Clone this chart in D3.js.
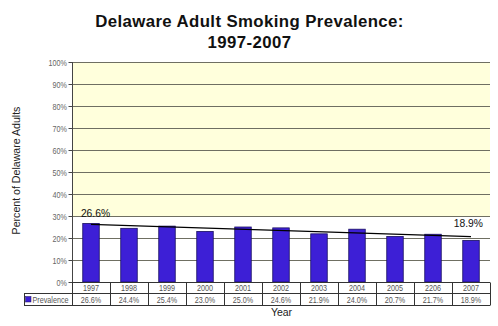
<!DOCTYPE html>
<html><head><meta charset="utf-8">
<script src="https://cdn.jsdelivr.net/npm/d3@7"></script>
<style>body{margin:0;background:#fff;}svg{display:block;font-family:"Liberation Sans",Arial,sans-serif;}</style>
</head><body><svg id="c" width="498" height="326"></svg>
<script>
const years = ["1997","1998","1999","2000","2001","2002","2003","2004","2005","2206","2007"];
const prevalence = [26.6,24.4,25.4,23.0,25.0,24.6,21.9,24.0,20.7,21.7,18.9];
const trendEnds = [26.2,20.6];
const yTicks = [0,10,20,30,40,50,60,70,80,90,100];
const seriesName = "Prevalence";

const svg = d3.select("#c");
const L=72,R=490,T=62,B=282;
const NX = 0.82; // narrow horizontal squeeze for small table/axis text
const x = d3.scaleBand().domain(years).range([L,R]).paddingInner(0).paddingOuter(0);
const y = d3.scaleLinear().domain([0,100]).range([B,T]);

svg.append("text").attr("x",249.5).attr("y",26.7).attr("text-anchor","middle").attr("font-size",16.8).attr("letter-spacing",0.4).attr("font-weight","bold").attr("fill","#111").text("Delaware Adult Smoking Prevalence:");
svg.append("text").attr("x",249.5).attr("y",47.5).attr("text-anchor","middle").attr("font-size",16.8).attr("letter-spacing",0.4).attr("font-weight","bold").attr("fill","#111").text("1997-2007");

svg.append("rect").attr("x",L).attr("y",T).attr("width",R-L).attr("height",y(30)-T).attr("fill","#ffffdc");

svg.append("g").selectAll("line").data(yTicks.filter(d=>d>0)).join("line")
 .attr("x1",L).attr("x2",R).attr("y1",d=>y(d)+0.5).attr("y2",d=>y(d)+0.5)
 .attr("stroke","#6f6f62").attr("stroke-width",1);

const ya = svg.append("g").attr("transform",`translate(${L+0.5},0)`).call(d3.axisLeft(y).tickValues(yTicks).tickSize(4).tickPadding(1.5).tickFormat(d=>d+"%"));
ya.select(".domain").attr("stroke","#444").attr("d",`M0,${T}V${B}`);
ya.selectAll(".tick line").attr("stroke","#444");
ya.selectAll(".tick text").each(function(){
  const t=d3.select(this); const xx=+t.attr("x");
  t.attr("x",null).attr("transform",`translate(${xx},0) scale(${NX},1)`);
}).attr("font-size",8.8).attr("fill","#666").attr("dy","0.35em").attr("font-family",null);

const bw = 16.5;
svg.append("g").selectAll("rect").data(prevalence).join("rect")
 .attr("x",(d,i)=>x(years[i])+x.bandwidth()/2-bw/2).attr("width",bw)
 .attr("y",d=>y(d)).attr("height",d=>B-y(d))
 .attr("fill","#3d1fd6").attr("stroke","#1a1060").attr("stroke-width",0.8);

svg.append("line")
 .attr("x1",x(years[0])+x.bandwidth()/2).attr("y1",y(trendEnds[0]))
 .attr("x2",x(years[years.length-1])+x.bandwidth()/2).attr("y2",y(trendEnds[1]))
 .attr("stroke","#000").attr("stroke-width",1.2);

svg.append("text").attr("x",x(years[0])+x.bandwidth()/2+4.5).attr("y",y(prevalence[0])-6.5).attr("text-anchor","middle").attr("font-size",10.3).attr("fill","#111").text(prevalence[0].toFixed(1)+"%");
const li = years.length-1;
svg.append("text").attr("x",x(years[li])+x.bandwidth()/2-2.7).attr("y",y(prevalence[li])-13.1).attr("text-anchor","middle").attr("font-size",10.3).attr("fill","#111").text(prevalence[li].toFixed(1)+"%");

// data table
const tb = svg.append("g").attr("fill","none").attr("stroke","#333").attr("stroke-width",1);
const r1=B+0.5, r2=293.5, r3=305.5;
tb.append("line").attr("x1",L).attr("x2",R).attr("y1",r1).attr("y2",r1);
tb.append("line").attr("x1",24).attr("x2",R).attr("y1",r2).attr("y2",r2);
tb.append("line").attr("x1",24).attr("x2",R).attr("y1",r3).attr("y2",r3);
tb.append("line").attr("x1",24.5).attr("x2",24.5).attr("y1",r2).attr("y2",r3);
tb.selectAll(".v").data(years.map(d=>x(d)).concat([R])).join("line")
 .attr("x1",d=>Math.round(d)+0.5).attr("x2",d=>Math.round(d)+0.5).attr("y1",r1).attr("y2",r3);

svg.append("g").selectAll("text").data(years).join("text")
 .attr("transform",d=>`translate(${x(d)+x.bandwidth()/2},291) scale(${NX},1)`).attr("text-anchor","middle")
 .attr("font-size",8.8).attr("fill","#555").text(d=>d);
svg.append("g").selectAll("text").data(prevalence).join("text")
 .attr("transform",(d,i)=>`translate(${x(years[i])+x.bandwidth()/2},303.3) scale(${NX},1)`).attr("text-anchor","middle")
 .attr("font-size",8.8).attr("fill","#555").text(d=>d.toFixed(1)+"%");
svg.append("rect").attr("x",25.5).attr("y",296.5).attr("width",5.5).attr("height",5.5).attr("fill","#3d1fd6").attr("stroke","#1a1060").attr("stroke-width",0.5);
svg.append("text").attr("transform",`translate(32.5,303.3) scale(${NX},1)`).attr("font-size",8.8).attr("fill","#555").text(seriesName);

svg.append("text").attr("x",281.5).attr("y",316.3).attr("text-anchor","middle").attr("font-size",10.5).attr("fill","#222").text("Year");
svg.append("text").attr("transform","translate(19.5,170.5) rotate(-90)").attr("text-anchor","middle").attr("font-size",10.6).attr("fill","#222").text("Percent of Delaware Adults");
</script></body></html>
